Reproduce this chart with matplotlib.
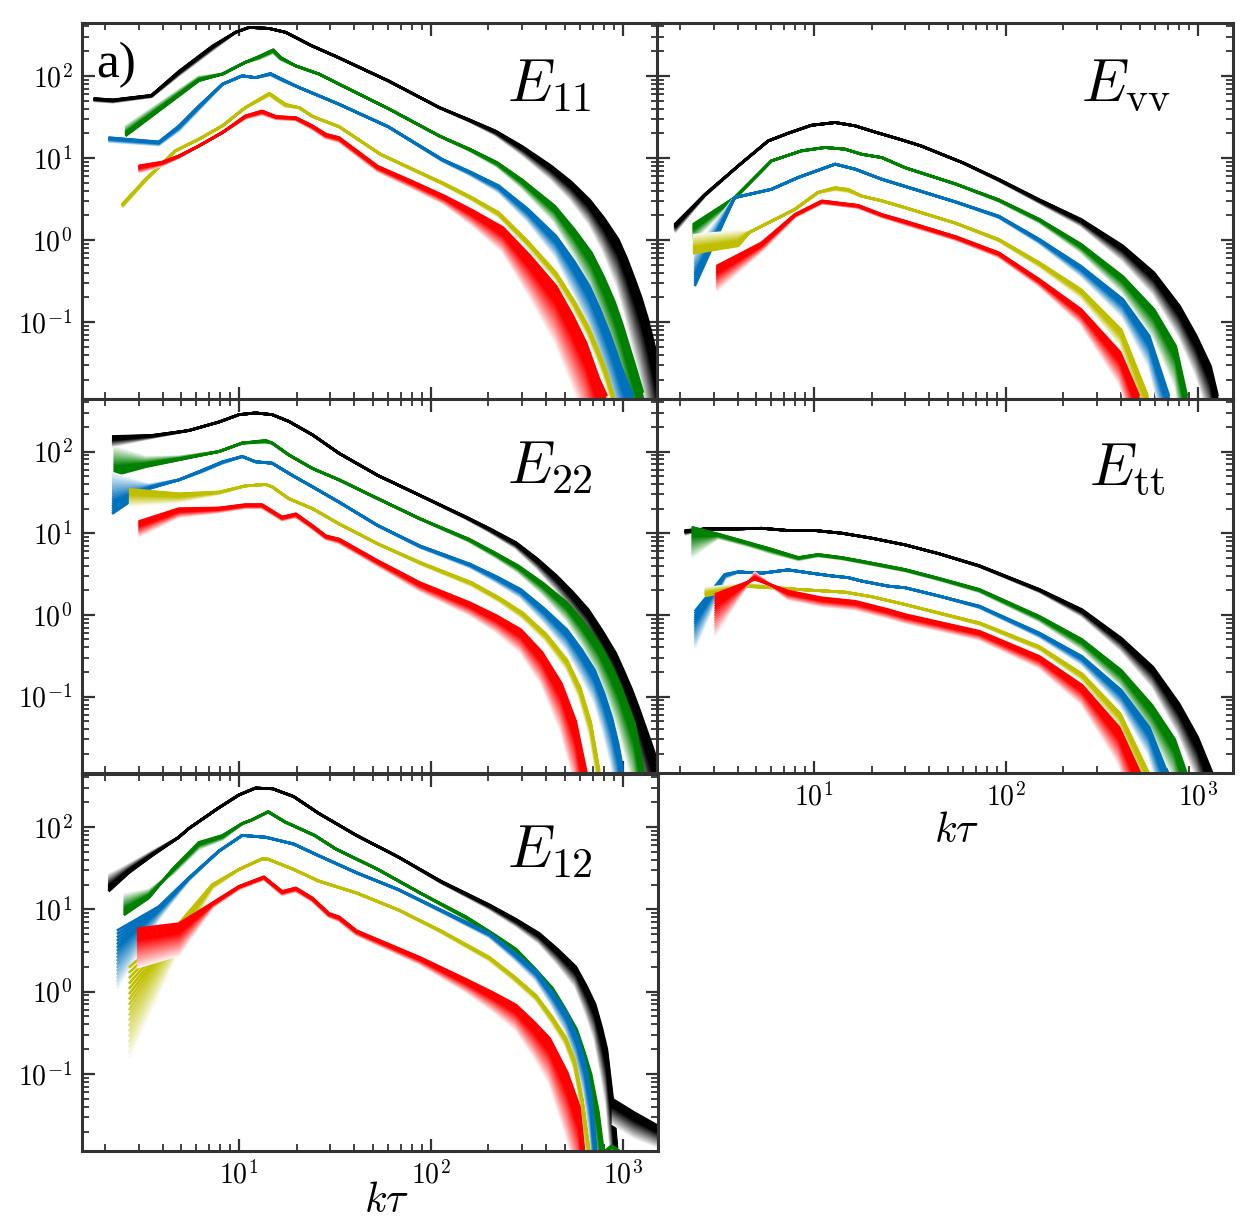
import numpy as np
import matplotlib
matplotlib.use("Agg")
import matplotlib.pyplot as plt
import matplotlib.colors as mcolors
from matplotlib.ticker import LogLocator, FuncFormatter, NullFormatter

plt.rcParams['mathtext.fontset'] = 'cm'
plt.rcParams['font.family'] = 'serif'

# colours of the five bundles
c_black = '#000000'
c_green = '#008000'
c_blue = '#0072BD'
c_yellow = '#BFBF00'
c_red = '#FF0000'

# ---------------- E11 ----------------
e11_black_k = [1.75, 2.2, 3.5, 4.9, 7.3, 9.6, 11.3, 14.3, 17.5, 24, 33, 60, 111, 160, 218, 300, 424, 540, 672, 800, 949, 1050, 1157, 1250, 1354, 1450, 1530]
e11_black_E = [53, 51, 58, 115, 232, 339, 389, 378, 339, 232, 167, 87, 41, 29, 21.3, 13.8, 8.0, 5.1, 3.1, 1.85, 1.02, 0.6, 0.33, 0.2, 0.108, 0.057, 0.033]
e11_black_f = [0.03, 0.03, 0.02, 0.05, 0.05, 0, 0, 0, 0, 0, 0, 0, 0, 0.02, 0.05, 0.1, 0.16, 0.22, 0.3, 0.42, 0.6, 0.75, 0.9, 1.0, 1.15, 1.3, 1.4]

e11_green_k = [2.56, 6.18, 8.2, 10.8, 12.7, 15.1, 16.5, 19.8, 26.2, 33.3, 60, 111, 160, 222, 300, 443, 560, 689, 800, 911, 1000, 1080, 1180, 1277]
e11_green_E = [18.5, 87, 105, 146, 172, 208, 168, 132, 105, 79, 40, 18.5, 12.8, 8.8, 5.4, 2.6, 1.35, 0.70, 0.35, 0.173, 0.092, 0.051, 0.026, 0.0138]
e11_green_f = [-0.12, -0.05, 0, 0, 0.03, 0.04, 0.03, 0, 0, 0, 0, 0, 0.02, 0.05, 0.1, 0.2, 0.32, 0.45, 0.6, 0.7, 0.8, 0.9, 1.0, 1.1]

e11_blue_k = [2.09, 3.82, 4.86, 6.18, 8.2, 10.4, 12.2, 14.6, 16.8, 20.6, 26.2, 33.3, 60, 115, 160, 226, 320, 450, 560, 672, 760, 853, 915, 980, 1132]
e11_blue_E = [17.7, 15.7, 24.5, 43, 79, 100, 95, 107, 91, 72, 57, 45, 24, 9.6, 6.8, 4.6, 2.4, 1.12, 0.55, 0.275, 0.145, 0.074, 0.047, 0.029, 0.0126]
e11_blue_f = [0.05, 0.04, 0.06, 0.05, 0, 0, 0, 0.02, 0.02, 0, 0, 0, 0, 0.02, 0.04, 0.08, 0.15, 0.26, 0.4, 0.5, 0.58, 0.65, 0.7, 0.75, 0.85]

e11_yellow_k = [2.46, 3.26, 4.67, 6.18, 8.2, 10.8, 14.4, 17.5, 20.6, 24.2, 33.3, 55, 115, 160, 226, 320, 450, 560, 661, 740, 816, 898]
e11_yellow_E = [2.72, 5.5, 12.2, 16.9, 24.6, 41, 61.5, 45, 41, 32, 24, 11, 5.0, 3.4, 2.16, 0.97, 0.40, 0.18, 0.089, 0.048, 0.0265, 0.0126]
e11_yellow_f = [0.04, 0.02, 0, 0, 0, 0, 0.03, 0.03, 0, 0, 0, 0, 0.02, 0.03, 0.05, 0.07, 0.09, 0.11, 0.13, 0.14, 0.15, 0.16]

e11_red_k = [3.0, 3.98, 4.86, 6.18, 8.2, 10.8, 13.2, 15.6, 19.8, 24.2, 28.4, 33.3, 53, 80, 118, 165, 238, 330, 450, 550, 645, 756, 828]
e11_red_E = [8.0, 8.9, 10.6, 14, 20.4, 32.5, 37.4, 32, 31, 24.6, 19.5, 17.7, 7.9, 5.2, 3.44, 2.3, 1.42, 0.64, 0.275, 0.12, 0.056, 0.02, 0.0126]
e11_red_f = [0.08, 0.04, 0.02, 0, 0, 0.03, 0.04, 0.03, 0.03, 0.04, 0.05, 0.05, 0.06, 0.08, 0.1, 0.18, 0.3, 0.5, 0.7, 0.85, 0.94, 1.04, 1.1]

# ---------------- Evv ----------------
evv_black_k = [1.88, 2.7, 4.03, 5.77, 7.34, 9.7, 12.9, 16.4, 20.8, 28.7, 36.2, 60, 92, 150, 247, 408, 593, 806, 988, 1169, 1273]
evv_black_E = [1.55, 3.6, 8.0, 16.1, 20, 25, 27, 24.6, 20.7, 16.6, 14, 8.7, 5.5, 3.1, 1.79, 0.85, 0.40, 0.157, 0.067, 0.029, 0.0126]
evv_black_f = [0.1, 0.02, 0, 0, 0, 0, 0, 0, 0, 0, 0, 0, 0.02, 0.04, 0.08, 0.18, 0.27, 0.38, 0.48, 0.65, 0.8]

evv_green_k = [2.34, 3.86, 6.0, 8.6, 11.4, 14.5, 17.7, 22.6, 29.9, 55, 92, 150, 247, 408, 593, 770, 880]
evv_green_E = [1.55, 3.29, 9.2, 12.2, 13.4, 12.8, 11.1, 10.1, 7.6, 4.8, 3.1, 1.79, 0.89, 0.36, 0.143, 0.051, 0.0126]
evv_green_f = [0.2, 0.02, 0, 0, 0, 0, 0, 0, 0, 0, 0.02, 0.04, 0.1, 0.2, 0.35, 0.5, 0.7]

evv_blue_k = [2.39, 3.86, 6.0, 8.3, 12.9, 16.4, 22.6, 29.9, 55, 92, 150, 247, 408, 560, 710]
evv_blue_E = [0.275, 3.29, 4.15, 5.8, 8.4, 7.3, 5.5, 4.5, 2.9, 1.96, 1.02, 0.48, 0.19, 0.068, 0.0126]
evv_blue_f = [-0.45, 0, 0, 0, 0, 0, 0, 0, 0, 0.02, 0.05, 0.12, 0.22, 0.38, 0.6]

evv_yellow_k = [2.34, 4.03, 4.64, 7.96, 10.5, 12.9, 15.1, 17.7, 22.6, 29.9, 55, 92, 150, 247, 400, 550]
evv_yellow_E = [0.69, 0.85, 1.25, 2.37, 3.8, 4.36, 4.15, 3.44, 3.0, 2.48, 1.6, 1.02, 0.53, 0.25, 0.081, 0.0126]
evv_yellow_f = [-0.22, -0.18, 0, 0, 0, 0.03, 0.03, 0, 0, 0, 0, 0.02, 0.05, 0.1, 0.2, 0.35]

evv_red_k = [3.1, 5.35, 7.96, 11, 14, 17, 22.6, 29.9, 55, 92, 150, 247, 395, 495]
evv_red_E = [0.48, 0.93, 2.05, 3.0, 2.8, 2.65, 2.05, 1.7, 1.1, 0.70, 0.33, 0.143, 0.043, 0.0126]
evv_red_f = [0.3, 0.1, 0.03, 0.03, 0.03, 0.03, 0.03, 0.04, 0.04, 0.05, 0.08, 0.18, 0.4, 0.6]

# ---------------- E22 ----------------
e22_black_k = [2.18, 3.52, 5.48, 7.87, 10, 12.2, 14.9, 18.2, 24.2, 33.3, 53, 88, 153, 200, 278, 360, 454, 550, 663, 790, 921, 1020, 1120, 1210, 1300, 1400, 1493]
e22_black_E = [153, 158, 181, 230, 283, 297, 283, 234, 160, 95, 51, 29, 15.8, 11.6, 7.7, 4.85, 3.0, 1.9, 1.16, 0.62, 0.34, 0.2, 0.12, 0.074, 0.046, 0.028, 0.018]
e22_black_f = [0.12, 0.03, 0, 0, 0, 0, 0, 0, 0, 0, 0, 0, 0.02, 0.04, 0.07, 0.12, 0.18, 0.24, 0.3, 0.38, 0.45, 0.55, 0.65, 0.75, 0.85, 0.95, 1.0]

e22_green_k = [2.22, 3.26, 4.86, 7.87, 10.4, 13.8, 14.9, 18.2, 24.2, 33.3, 53, 88, 158, 215, 286, 385, 513, 620, 754, 860, 964, 1060, 1157, 1215, 1290]
e22_green_E = [51, 65, 79, 100, 127, 137, 127, 91, 62, 45, 26.5, 15, 8.5, 5.8, 4.0, 2.45, 1.41, 0.84, 0.45, 0.255, 0.145, 0.08, 0.046, 0.025, 0.0115]
e22_green_f = [-0.35, -0.12, -0.04, 0, 0, 0.03, 0, 0, 0, 0, 0, 0, 0.03, 0.05, 0.08, 0.14, 0.22, 0.3, 0.4, 0.5, 0.6, 0.7, 0.8, 0.85, 0.9]

e22_blue_k = [2.18, 3.39, 4.86, 6.43, 8.2, 10.4, 12.2, 14.9, 19, 24.2, 33.3, 53, 88, 160, 220, 295, 390, 513, 610, 716, 800, 880, 950, 1000]
e22_blue_E = [17.3, 35, 45, 59, 75, 87, 75, 72, 51, 37, 24, 12.4, 7.0, 4.2, 2.95, 2.05, 1.2, 0.66, 0.38, 0.21, 0.11, 0.055, 0.026, 0.0135]
e22_blue_f = [-0.5, -0.05, 0, 0.02, 0.02, 0, 0, 0, 0, 0, 0, 0, 0.02, 0.04, 0.07, 0.1, 0.17, 0.25, 0.33, 0.4, 0.5, 0.6, 0.7, 0.8]

e22_yellow_k = [2.67, 4.86, 7.87, 10.8, 13.8, 14.9, 18.2, 24.2, 33.3, 53, 88, 164, 230, 302, 400, 513, 600, 680, 755]
e22_yellow_E = [34.5, 30.5, 32, 38, 39.5, 37, 26.5, 20, 13, 7.4, 4.4, 2.48, 1.6, 1.06, 0.58, 0.28, 0.13, 0.05, 0.0125]
e22_yellow_f = [0.2, 0.1, 0.02, 0, 0, 0, 0, 0, 0, 0, 0.02, 0.04, 0.05, 0.07, 0.09, 0.12, 0.15, 0.2, 0.25]

e22_red_k = [3.0, 4.86, 7.87, 10.8, 13.2, 16.8, 19.8, 24.2, 28.4, 33.3, 53, 88, 160, 220, 295, 380, 480, 570, 650]
e22_red_E = [13.9, 20, 20.4, 22.4, 22.4, 15.8, 17.3, 12.4, 9.3, 8.5, 4.6, 2.48, 1.41, 0.98, 0.66, 0.35, 0.145, 0.05, 0.0114]
e22_red_f = [0.18, 0.1, 0.05, 0.04, 0.04, 0.04, 0.04, 0.04, 0.04, 0.05, 0.06, 0.1, 0.15, 0.2, 0.28, 0.4, 0.6, 0.8, 1.0]

# ---------------- Ett ----------------
ett_black_k = [2.12, 2.7, 4.03, 5.33, 7.34, 10.1, 14, 20, 29.9, 45, 73, 150, 250, 400, 585, 800, 1000, 1200]
ett_black_E = [10.8, 11.3, 11.3, 11.5, 10.8, 10.8, 10, 8.7, 7.2, 5.6, 4.0, 2.05, 1.16, 0.52, 0.23, 0.082, 0.032, 0.0112]
ett_black_f = [0.05, 0, 0, 0, 0, 0, 0, 0, 0, 0, 0.01, 0.03, 0.08, 0.15, 0.25, 0.38, 0.52, 0.75]

ett_green_k = [2.3, 3.16, 4.54, 6.0, 8.3, 10.5, 14, 19.2, 29.9, 45, 73, 150, 250, 400, 580, 760, 880]
ett_green_E = [11.9, 9.8, 7.7, 6.4, 5.05, 5.5, 5.05, 4.4, 3.6, 2.8, 2.05, 0.96, 0.50, 0.21, 0.078, 0.030, 0.0112]
ett_green_f = [0.37, 0.05, 0.04, 0.05, 0.03, 0.02, 0.02, 0.02, 0.02, 0.02, 0.03, 0.06, 0.12, 0.2, 0.35, 0.5, 0.7]

ett_blue_k = [2.39, 3.43, 4.03, 5.33, 7.34, 9.7, 12.4, 15.1, 17.7, 24.4, 29.9, 45, 73, 150, 250, 400, 560, 700]
ett_blue_E = [1.1, 3.15, 3.36, 3.24, 3.56, 3.24, 3.0, 2.86, 2.6, 2.25, 2.15, 1.7, 1.28, 0.60, 0.31, 0.12, 0.042, 0.0112]
ett_blue_f = [0.45, 0.05, 0, 0, 0, 0, 0, 0, 0, 0, 0, 0, 0.02, 0.05, 0.1, 0.2, 0.35, 0.55]

ett_yellow_k = [2.7, 4.54, 8.3, 14.5, 20, 29.9, 73, 150, 250, 395, 560]
ett_yellow_E = [1.7, 2.22, 2.05, 1.9, 1.67, 1.34, 0.80, 0.41, 0.19, 0.062, 0.0112]
ett_yellow_f = [-0.1, -0.03, 0, 0, 0, 0, 0.02, 0.04, 0.08, 0.15, 0.25]

ett_red_k = [3.04, 4.92, 7.34, 11, 16.4, 24.4, 29.9, 73, 150, 250, 390, 505]
ett_red_E = [1.78, 2.73, 1.96, 1.62, 1.47, 1.16, 1.01, 0.63, 0.31, 0.138, 0.042, 0.0112]
ett_red_f = [0.5, -0.08, 0.1, 0.1, 0.1, 0.1, 0.1, 0.1, 0.14, 0.24, 0.45, 0.7]

# ---------------- E12 ----------------
e12_black_k = [2.09, 2.67, 3.52, 4.86, 5.45, 7.76, 10, 12.2, 15, 19.3, 26.1, 41, 68, 113, 203, 280, 368, 460, 571, 650, 720, 780, 828, 888, 936]
e12_black_E = [16.5, 27.8, 44.7, 75, 95, 168, 245, 297, 291, 234, 146, 79, 43, 22, 11.3, 7.5, 5.1, 3.25, 2.0, 1.15, 0.7, 0.36, 0.2, 0.05, 0.0125]
e12_black_f = [-0.2, -0.1, -0.05, 0, 0, 0, 0, 0, 0, 0, 0, 0, 0, 0.02, 0.05, 0.08, 0.12, 0.18, 0.25, 0.35, 0.45, 0.6, 0.7, 0.9, 1.0]

e12_black2_k = [880, 1150, 1550]
e12_black2_E = [0.05, 0.034, 0.023]
e12_black2_f = [0.3, 0.3, 0.25]

e12_green_k = [2.51, 3.39, 4.49, 6.18, 8.2, 10.4, 11.6, 14.2, 17.4, 24.8, 32, 53, 88, 153, 210, 278, 350, 432, 500, 576, 630, 685, 748, 795]
e12_green_E = [8.5, 13.7, 30.5, 65, 79, 110, 121, 153, 115, 79, 54, 30.5, 15.8, 8.1, 5.1, 3.3, 1.9, 1.1, 0.63, 0.35, 0.19, 0.1, 0.035, 0.0115]
e12_green_f = [-0.25, -0.1, 0.06, 0.08, 0.05, 0, 0, 0, 0, 0, 0, 0, 0, 0.03, 0.05, 0.08, 0.12, 0.18, 0.24, 0.3, 0.4, 0.5, 0.7, 0.9]

e12_green2_k = [780, 880, 1000]
e12_green2_E = [0.0108, 0.0135, 0.0108]
e12_green2_f = [0, 0.05, 0]

e12_blue_k = [2.31, 3.82, 5.48, 7.87, 10.4, 13.8, 19.3, 26.1, 41, 68, 113, 203, 270, 354, 430, 512, 580, 637, 682, 728]
e12_blue_E = [5.5, 10.8, 24.2, 51, 79, 75, 62, 44.7, 27.8, 17.3, 9.8, 5.1, 3.05, 1.8, 1.0, 0.55, 0.29, 0.14, 0.06, 0.0125]
e12_blue_f = [0.7, 0.15, 0.03, 0, 0, 0, 0, 0, 0, 0, 0.02, 0.05, 0.08, 0.12, 0.18, 0.25, 0.35, 0.45, 0.6, 0.8]

e12_yellow_k = [2.67, 4.86, 7.26, 10, 13.2, 14.2, 19.3, 26.1, 41, 68, 113, 203, 270, 354, 430, 504, 561, 616, 671]
e12_yellow_E = [1.96, 6.7, 20, 30.5, 41, 40.6, 30.5, 22, 15.8, 9.8, 5.5, 2.6, 1.55, 0.9, 0.49, 0.28, 0.15, 0.05, 0.0115]
e12_yellow_f = [1.1, 0.3, 0.05, 0, 0, 0, 0, 0, 0, 0, 0.02, 0.04, 0.05, 0.06, 0.08, 0.1, 0.12, 0.15, 0.2]

e12_red_k = [2.94, 4.86, 7.26, 10, 13.5, 16.8, 19.8, 24.2, 29.5, 33.3, 41, 88, 153, 210, 278, 345, 417, 515, 596, 630]
e12_red_E = [5.8, 6.7, 11.9, 19, 24.8, 16.5, 18.2, 13.7, 8.9, 8.1, 5.5, 2.6, 1.41, 0.98, 0.69, 0.43, 0.27, 0.104, 0.04, 0.0116]
e12_red_f = [0.47, 0.38, 0.05, 0.03, 0.03, 0.04, 0.04, 0.04, 0.04, 0.05, 0.05, 0.08, 0.15, 0.22, 0.3, 0.42, 0.55, 0.8, 0.95, 1.05]

panel_labels = [r'$E_{11}$', r'$E_{\rm vv}$', r'$E_{22}$', r'$E_{\rm tt}$', r'$E_{12}$']


def draw_bundle(ax, k, E, fade, color, n=18):
    k = np.array(k)
    E = np.array(E)
    fade = np.array(fade)
    rgb = np.array(mcolors.to_rgb(color))
    # faint (early) lines first, the full colour line last
    for i in range(n - 1, -1, -1):
        t = i / (n - 1)
        s = 1.0 if t < 0.3 else 1 - 0.93 * (t - 0.3) / 0.7
        c = 1 - s * (1 - rgb)
        ax.plot(k, E * 10 ** (-fade * t), color=c, lw=1.9,
                solid_joinstyle='round', solid_capstyle='butt')


def log_fmt(v, pos):
    return r'$10^{%d}$' % int(round(np.log10(v)))


def style(ax, xlab, ylab):
    ax.set_xscale('log')
    ax.set_yscale('log')
    ax.set_xlim(1.52, 1530)
    ax.set_ylim(0.0116, 440)
    ax.xaxis.set_major_locator(LogLocator(base=10, numticks=10))
    ax.yaxis.set_major_locator(LogLocator(base=10, numticks=10))
    ax.xaxis.set_minor_locator(LogLocator(base=10, subs=np.arange(2, 10), numticks=20))
    ax.yaxis.set_minor_locator(LogLocator(base=10, subs=np.arange(2, 10), numticks=20))
    ax.xaxis.set_major_formatter(FuncFormatter(log_fmt))
    ax.yaxis.set_major_formatter(FuncFormatter(log_fmt))
    ax.xaxis.set_minor_formatter(NullFormatter())
    ax.yaxis.set_minor_formatter(NullFormatter())
    ax.tick_params(which='both', direction='in', top=True, right=True,
                   color='#333333', labelsize=20,
                   labelbottom=xlab, labelleft=ylab)
    ax.tick_params(which='major', length=9, width=1.6, pad=7)
    ax.tick_params(which='minor', length=5, width=1.3)
    for sp in ax.spines.values():
        sp.set_linewidth(2.2)
        sp.set_color('#333333')


fig = plt.figure(figsize=(12.57, 12.32), dpi=100)

lx, rx = 82 / 1257, 657 / 1257
w = 576 / 1257
ax11 = fig.add_axes([lx, 1 - 399 / 1232, w, 376 / 1232])
axvv = fig.add_axes([rx, 1 - 399 / 1232, w, 376 / 1232])
ax22 = fig.add_axes([lx, 1 - 773 / 1232, w, 374 / 1232])
axtt = fig.add_axes([rx, 1 - 773 / 1232, w, 374 / 1232])
ax12 = fig.add_axes([lx, 1 - 1151 / 1232, w, 377 / 1232])

draw_bundle(ax11, e11_black_k, e11_black_E, e11_black_f, c_black)
draw_bundle(ax11, e11_green_k, e11_green_E, e11_green_f, c_green)
draw_bundle(ax11, e11_blue_k, e11_blue_E, e11_blue_f, c_blue)
draw_bundle(ax11, e11_yellow_k, e11_yellow_E, e11_yellow_f, c_yellow)
draw_bundle(ax11, e11_red_k, e11_red_E, e11_red_f, c_red)

draw_bundle(axvv, evv_black_k, evv_black_E, evv_black_f, c_black)
draw_bundle(axvv, evv_green_k, evv_green_E, evv_green_f, c_green)
draw_bundle(axvv, evv_blue_k, evv_blue_E, evv_blue_f, c_blue)
draw_bundle(axvv, evv_yellow_k, evv_yellow_E, evv_yellow_f, c_yellow)
draw_bundle(axvv, evv_red_k, evv_red_E, evv_red_f, c_red)

draw_bundle(ax22, e22_black_k, e22_black_E, e22_black_f, c_black)
draw_bundle(ax22, e22_green_k, e22_green_E, e22_green_f, c_green)
draw_bundle(ax22, e22_blue_k, e22_blue_E, e22_blue_f, c_blue)
draw_bundle(ax22, e22_yellow_k, e22_yellow_E, e22_yellow_f, c_yellow)
draw_bundle(ax22, e22_red_k, e22_red_E, e22_red_f, c_red)

draw_bundle(axtt, ett_black_k, ett_black_E, ett_black_f, c_black)
draw_bundle(axtt, ett_green_k, ett_green_E, ett_green_f, c_green)
draw_bundle(axtt, ett_blue_k, ett_blue_E, ett_blue_f, c_blue)
draw_bundle(axtt, ett_yellow_k, ett_yellow_E, ett_yellow_f, c_yellow)
draw_bundle(axtt, ett_red_k, ett_red_E, ett_red_f, c_red)

draw_bundle(ax12, e12_black_k, e12_black_E, e12_black_f, c_black)
draw_bundle(ax12, e12_black2_k, e12_black2_E, e12_black2_f, c_black)
draw_bundle(ax12, e12_green_k, e12_green_E, e12_green_f, c_green)
draw_bundle(ax12, e12_green2_k, e12_green2_E, e12_green2_f, c_green)
draw_bundle(ax12, e12_blue_k, e12_blue_E, e12_blue_f, c_blue)
draw_bundle(ax12, e12_yellow_k, e12_yellow_E, e12_yellow_f, c_yellow)
draw_bundle(ax12, e12_red_k, e12_red_E, e12_red_f, c_red)

style(ax11, False, True)
style(axvv, False, False)
style(ax22, False, True)
style(axtt, True, False)
style(ax12, True, True)

ax12.set_xlabel(r'$k\tau$', fontsize=30, va='center')
ax12.xaxis.set_label_coords(0.528, -0.13)
axtt.set_xlabel(r'$k\tau$', fontsize=30, va='center')
axtt.xaxis.set_label_coords(0.52, -0.152)

label_pos = [(0.884, 0.79), (0.891, 0.793), (0.887, 0.773), (0.882, 0.77), (0.887, 0.75)]
for ax, lab, (px, py) in zip([ax11, axvv, ax22, axtt, ax12], panel_labels, label_pos):
    ax.text(px, py, lab, transform=ax.transAxes, fontsize=43,
            ha='right', va='baseline')

ax11.text(0.024, 0.855, 'a)', transform=ax11.transAxes, fontsize=37,
          family='Liberation Serif', ha='left', va='baseline')

fig.savefig('out.png', dpi=100)
